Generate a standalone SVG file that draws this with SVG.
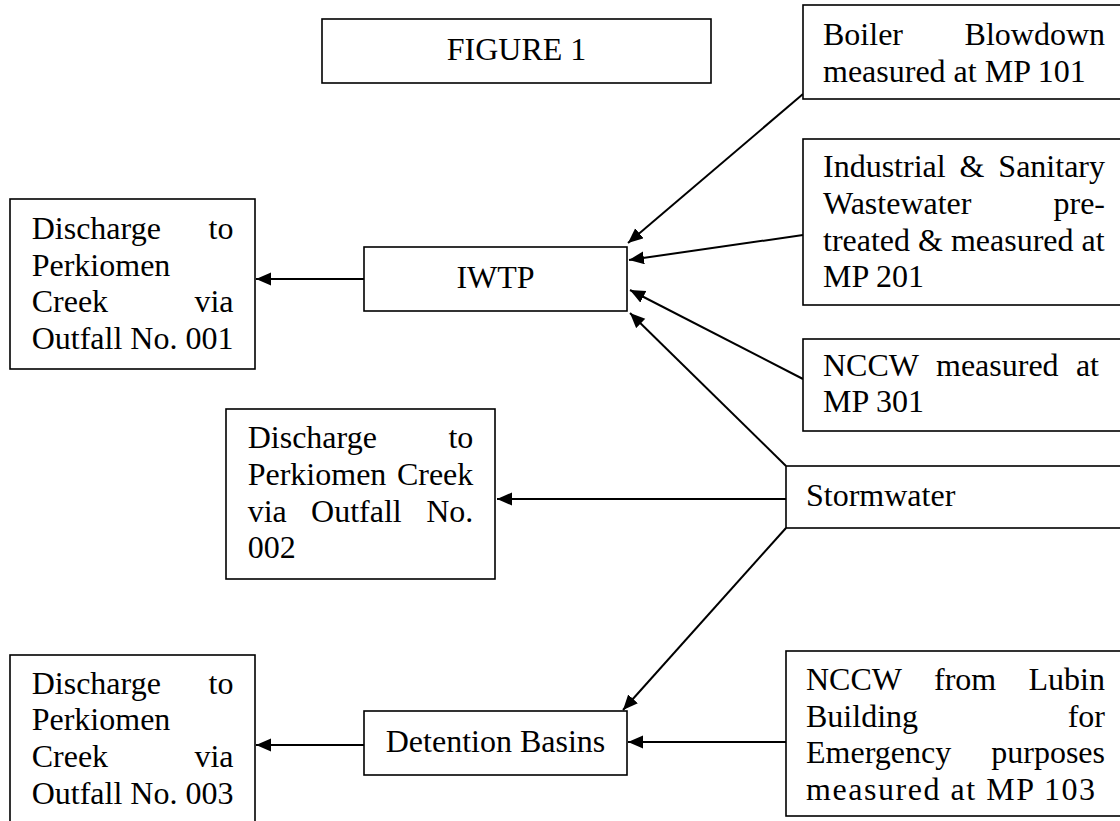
<svg xmlns="http://www.w3.org/2000/svg" width="1120" height="821" viewBox="0 0 1120 821">
<style>
  .box { fill: #ffffff; stroke: #000000; stroke-width: 1.6; }
  text { font-family: "Liberation Serif", "Times New Roman", serif; font-size: 32px; fill: #000000; }
  .end { text-anchor: end; }
  .mid { text-anchor: middle; }
  .conn { stroke: #000000; stroke-width: 2; fill: none; marker-end: url(#arrow); }
</style>
<defs>
  <marker id="arrow" markerUnits="userSpaceOnUse" markerWidth="16" markerHeight="14" refX="15" refY="6.5" orient="auto">
    <path d="M0,0 L15,6.5 L0,13 z" fill="#000000"/>
  </marker>
</defs>
<rect width="1120" height="821" fill="#ffffff"/>

<g id="connectors">
  <line class="conn" x1="364" y1="279" x2="256" y2="279"/>
  <line class="conn" x1="803" y1="94" x2="628" y2="243"/>
  <line class="conn" x1="803" y1="235" x2="629" y2="260"/>
  <line class="conn" x1="803" y1="379" x2="630" y2="290"/>
  <line class="conn" x1="786" y1="466" x2="630" y2="313"/>
  <line class="conn" x1="786" y1="499" x2="497" y2="499"/>
  <line class="conn" x1="786" y1="528" x2="623" y2="710"/>
  <line class="conn" x1="786" y1="742" x2="628" y2="742"/>
  <line class="conn" x1="364" y1="745" x2="256" y2="745"/>
</g>

<g id="figure-title">
  <rect class="box" x="322" y="19" width="389" height="64"/>
  <text x="516.5" y="60" class="mid">FIGURE 1</text>
</g>

<g id="boiler">
  <rect class="box" x="803" y="5" width="340" height="94"/>
  <text y="45"><tspan x="823">Boiler</tspan><tspan x="1105" class="end">Blowdown</tspan></text>
  <text x="823" y="82">measured at MP 101</text>
</g>

<g id="industrial">
  <rect class="box" x="803" y="139" width="340" height="166"/>
  <text y="177"><tspan x="823">Industrial</tspan><tspan x="959.5">&amp;</tspan><tspan x="1105" class="end">Sanitary</tspan></text>
  <text y="214"><tspan x="823">Wastewater</tspan><tspan x="1105" class="end">pre-</tspan></text>
  <text x="823" y="250.5">treated &amp; measured at</text>
  <text x="823" y="287">MP 201</text>
</g>

<g id="nccw301">
  <rect class="box" x="803" y="339" width="340" height="92"/>
  <text y="376"><tspan x="823">NCCW</tspan><tspan x="936">measured</tspan><tspan x="1099" class="end">at</tspan></text>
  <text x="823" y="412">MP 301</text>
</g>

<g id="stormwater">
  <rect class="box" x="786" y="466" width="360" height="62"/>
  <text x="806" y="506">Stormwater</text>
</g>

<g id="nccw-lubin">
  <rect class="box" x="786" y="651" width="360" height="165"/>
  <text y="690"><tspan x="806">NCCW</tspan><tspan x="934">from</tspan><tspan x="1105" class="end">Lubin</tspan></text>
  <text y="726.7"><tspan x="806">Building</tspan><tspan x="1105" class="end">for</tspan></text>
  <text y="763.3"><tspan x="806">Emergency</tspan><tspan x="1105" class="end">purposes</tspan></text>
  <text x="806" y="800" textLength="289" lengthAdjust="spacing">measured at MP 103</text>
</g>

<g id="iwtp">
  <rect class="box" x="364" y="247" width="263" height="64"/>
  <text x="495.5" y="288" class="mid">IWTP</text>
</g>

<g id="detention">
  <rect class="box" x="364" y="711" width="263" height="64"/>
  <text x="495.5" y="752" class="mid">Detention Basins</text>
</g>

<g id="discharge001">
  <rect class="box" x="10" y="199" width="245" height="170"/>
  <text y="239"><tspan x="31.7">Discharge</tspan><tspan x="233.5" class="end">to</tspan></text>
  <text x="31.7" y="275.5">Perkiomen</text>
  <text y="312"><tspan x="31.7">Creek</tspan><tspan x="233.5" class="end">via</tspan></text>
  <text x="31.7" y="348.5">Outfall No. 001</text>
</g>

<g id="discharge002">
  <rect class="box" x="226" y="409" width="269" height="170"/>
  <text y="448.3"><tspan x="247.7">Discharge</tspan><tspan x="473.3" class="end">to</tspan></text>
  <text y="485"><tspan x="247.7">Perkiomen</tspan><tspan x="473.3" class="end">Creek</tspan></text>
  <text y="521.7"><tspan x="247.7">via</tspan><tspan x="311.1">Outfall</tspan><tspan x="473.3" class="end">No.</tspan></text>
  <text x="247.7" y="558.3">002</text>
</g>

<g id="discharge003">
  <rect class="box" x="10" y="655" width="245" height="200"/>
  <text y="693.5"><tspan x="31.7">Discharge</tspan><tspan x="233.5" class="end">to</tspan></text>
  <text x="31.7" y="730.2">Perkiomen</text>
  <text y="766.9"><tspan x="31.7">Creek</tspan><tspan x="233.5" class="end">via</tspan></text>
  <text x="31.7" y="803.6">Outfall No. 003</text>
</g>
</svg>
